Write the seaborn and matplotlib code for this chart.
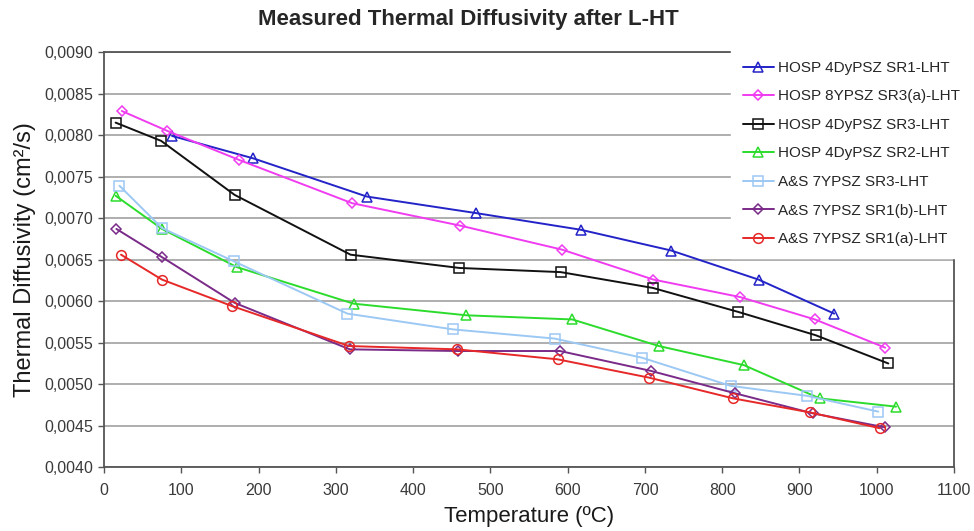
import matplotlib
matplotlib.use("Agg")
import matplotlib.pyplot as plt
import seaborn as sns
from matplotlib.ticker import FuncFormatter, MultipleLocator

# series data (temperature in ºC, diffusivity in cm²/s)
t_sr1_dy = [88, 193, 340, 482, 617, 734, 847, 945]
d_sr1_dy = [0.00799, 0.00772, 0.00726, 0.00706, 0.00686, 0.00661, 0.00626, 0.00585]

t_sr3a_8y = [23, 82, 175, 321, 461, 593, 711, 823, 920, 1011]
d_sr3a_8y = [0.00829, 0.00805, 0.00770, 0.00718, 0.00691, 0.00662, 0.00626, 0.00605, 0.00578, 0.00544]

t_sr3_dy = [15, 74, 169, 319, 460, 591, 710, 821, 921, 1015]
d_sr3_dy = [0.00815, 0.00793, 0.00728, 0.00656, 0.00640, 0.00635, 0.00616, 0.00587, 0.00559, 0.00525]

t_sr2_dy = [15, 75, 172, 323, 469, 606, 718, 828, 926, 1025]
d_sr2_dy = [0.00727, 0.00687, 0.00641, 0.00597, 0.00583, 0.00578, 0.00546, 0.00523, 0.00483, 0.00473]

t_sr3_7y = [20, 75, 168, 315, 452, 583, 696, 811, 910, 1002]
d_sr3_7y = [0.00739, 0.00688, 0.00648, 0.00585, 0.00566, 0.00555, 0.00532, 0.00498, 0.00486, 0.00467]

t_sr1b_7y = [16, 75, 169, 318, 458, 590, 708, 817, 917, 1011]
d_sr1b_7y = [0.00687, 0.00653, 0.00598, 0.00542, 0.00540, 0.00540, 0.00516, 0.00489, 0.00465, 0.00448]

t_sr1a_7y = [22, 75, 166, 317, 457, 587, 705, 814, 914, 1004]
d_sr1a_7y = [0.00656, 0.00626, 0.00594, 0.00546, 0.00542, 0.00530, 0.00508, 0.00483, 0.00466, 0.00447]

labels = [
    "HOSP 4DyPSZ SR1-LHT",
    "HOSP 8YPSZ SR3(a)-LHT",
    "HOSP 4DyPSZ SR3-LHT",
    "HOSP 4DyPSZ SR2-LHT",
    "A&S 7YPSZ SR3-LHT",
    "A&S 7YPSZ SR1(b)-LHT",
    "A&S 7YPSZ SR1(a)-LHT",
]
temps = [t_sr1_dy, t_sr3a_8y, t_sr3_dy, t_sr2_dy, t_sr3_7y, t_sr1b_7y, t_sr1a_7y]
diffs = [d_sr1_dy, d_sr3a_8y, d_sr3_dy, d_sr2_dy, d_sr3_7y, d_sr1b_7y, d_sr1a_7y]
colors = ["#2323c8", "#f03cf0", "#111111", "#2cdc2c", "#9cc8f4", "#7a2a88", "#e62828"]
markers = ["^", "D", "s", "^", "s", "D", "o"]
msizes = [7.5, 5.5, 7, 7.5, 7, 5.5, 7]

sns.set_theme(style="white")
plt.rcParams["font.family"] = ["Liberation Sans", "DejaVu Sans"]

fig = plt.figure(figsize=(9.74, 5.31), dpi=100)
ax = fig.add_axes([0.1068, 0.12, 0.8727, 0.782])

for t, d, lab, c, m, ms in zip(temps, diffs, labels, colors, markers, msizes):
    sns.lineplot(x=t, y=d, ax=ax, color=c, marker=m, markersize=ms,
                 markerfacecolor="none", markeredgecolor=c, markeredgewidth=1.1,
                 linewidth=1.4, label=lab, sort=False, zorder=3)

ax.set_xlim(0, 1100)
ax.set_ylim(0.0040, 0.0090)
ax.xaxis.set_major_locator(MultipleLocator(100))
ax.yaxis.set_major_locator(MultipleLocator(0.0005))
ax.yaxis.set_major_formatter(FuncFormatter(lambda v, p: f"{v:.4f}".replace(".", ",")))

ax.grid(axis="y", color="#a8a8a8", linewidth=1.3, zorder=0)
ax.grid(axis="x", visible=False)
for s in ax.spines.values():
    s.set_color("#555555")
    s.set_linewidth(1.3)

ax.tick_params(axis="both", which="major", direction="out", length=4, width=1,
               color="#555555", labelsize=11.5, labelcolor="#3a3a3a", bottom=True, left=True)
ax.tick_params(axis="x", pad=7)

ax.set_xlabel("Temperature (ºC)", fontsize=16, color="#1a1a1a", labelpad=6)
ax.set_ylabel("Thermal Diffusivity (cm²/s)", fontsize=17, color="#1a1a1a", labelpad=6)
fig.suptitle("Measured Thermal Diffusivity after L-HT", fontsize=16, fontweight="bold",
             x=0.481, y=0.983)

leg = ax.legend(loc="upper left", bbox_to_anchor=(0.7376, 0.5, 0.28, 0.508), mode="expand",
                borderaxespad=0, frameon=True, facecolor="white", edgecolor="white",
                framealpha=1, fontsize=11, handlelength=2.0, handletextpad=0.3,
                labelspacing=0.95, borderpad=0.8, fancybox=False)
leg.set_zorder(5)

fig.savefig("out.png", dpi=100)
